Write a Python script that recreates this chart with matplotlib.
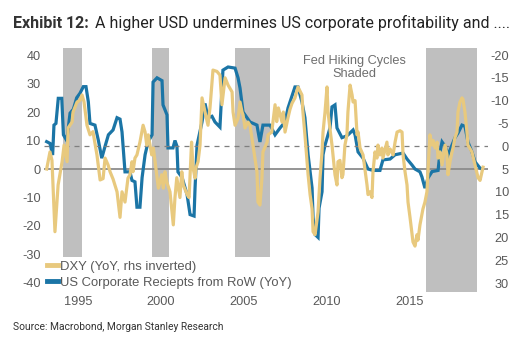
import matplotlib
matplotlib.use("Agg")
import matplotlib.pyplot as plt
from matplotlib.lines import Line2D

plt.rcParams['axes.unicode_minus'] = False

# US corporate receipts from rest of world, YoY % (left axis)
rec_t = [1993.11, 1993.31, 1993.47, 1993.55, 1993.67, 1993.81, 1994.02, 1994.12, 1994.32, 1994.52,
         1994.72, 1994.92, 1995.12, 1995.32, 1995.48, 1995.62, 1995.72, 1996.02, 1996.22, 1996.43,
         1996.63, 1996.83, 1997.11, 1997.35, 1997.53, 1997.65, 1997.83, 1998.13, 1998.25, 1998.43,
         1998.55, 1998.73, 1998.86, 1999.04, 1999.22, 1999.46, 1999.52, 1999.76, 2000.06, 2000.12,
         2000.36, 2000.42, 2000.72, 2000.84, 2000.96, 2001.02, 2001.27, 2001.57, 2001.75, 2001.99,
         2002.05, 2002.17, 2002.47, 2002.65, 2002.83, 2003.07, 2003.25, 2003.55, 2003.73, 2004.04,
         2004.46, 2004.64, 2004.76, 2004.94, 2005.36, 2005.78, 2005.96, 2006.14, 2006.57, 2006.87,
         2007.17, 2007.47, 2007.65, 2008.07, 2008.25, 2008.49, 2008.67, 2008.86, 2009.10, 2009.16,
         2009.28, 2009.46, 2009.52, 2009.70, 2009.76, 2009.88, 2010.18, 2010.30, 2010.48, 2010.60,
         2010.90, 2011.14, 2011.27, 2011.57, 2011.69, 2011.87, 2012.17, 2012.47, 2012.77, 2013.19,
         2013.37, 2013.80, 2014.10, 2014.58, 2014.82, 2015.12, 2015.30, 2015.60, 2015.72, 2015.90,
         2016.08, 2016.33, 2016.69, 2016.81, 2016.93, 2017.11, 2017.29, 2017.53, 2017.71, 2017.89,
         2018.13, 2018.31, 2018.49, 2018.73, 2018.92, 2019.22, 2019.34]
rec_yoy = [9.6, 9.0, 4.9, 15.4, 16.0, 24.8, 24.8, 12.0, 10.0, 19.6,
           21.0, 25.0, 26.6, 28.9, 28.9, 23.6, 16.0, 15.4, 10.2, 3.8,
           8.0, 12.0, 13.7, 18.0, 17.5, 13.0, -1.0, -1.0, -4.0, -4.5,
           -13.4, -13.4, -3.0, 5.0, 9.5, 12.0, 30.5, 32.0, 31.0, 22.5,
           19.0, 7.4, 7.4, 10.0, 8.0, -1.0, -3.0, -9.0, -16.0, -16.5,
           -6.7, 8.4, 16.5, 23.0, 18.0, 18.5, 16.5, 14.7, 34.7, 35.8,
           35.4, 32.0, 28.4, 20.0, 16.5, 15.4, 9.5, 15.4, 15.4, 12.0,
           14.4, 16.5, 21.4, 28.8, 28.8, 23.5, 18.0, 5.0, -6.7, -17.0,
           -23.0, -24.0, -13.7, -8.0, 5.0, 8.4, 14.4, 21.8, 22.5, 14.4,
           11.0, 11.5, 12.0, 13.7, 12.0, 6.0, 3.8, 0.0, -0.5, -0.5,
           3.2, 3.5, 5.0, 5.6, 3.5, 1.4, 0.0, -1.0, -2.8, -6.7,
           -3.2, -0.9, -0.5, 6.0, 9.5, 8.0, 5.0, 8.4, 11.0, 12.6,
           15.4, 15.0, 9.5, 6.0, 2.5, 0.3, 0.0]

# DXY, YoY % (right axis, inverted)
dxy_t = [1993.11, 1993.31, 1993.43, 1993.61, 1993.80, 1994.04, 1994.16, 1994.34, 1994.40, 1994.64,
         1994.70, 1994.94, 1995.12, 1995.24, 1995.36, 1995.54, 1995.72, 1995.90, 1996.14, 1996.33,
         1996.51, 1996.63, 1996.81, 1996.93, 1997.11, 1997.35, 1997.53, 1997.65, 1997.83, 1998.01,
         1998.13, 1998.25, 1998.31, 1998.43, 1998.55, 1998.73, 1998.92, 1999.04, 1999.14, 1999.23,
         1999.34, 1999.44, 1999.54, 1999.64, 1999.74, 1999.84, 2000.04, 2000.14, 2000.24, 2000.34,
         2000.54, 2000.74, 2000.84, 2000.95, 2001.14, 2001.25, 2001.34, 2001.57, 2001.69, 2001.84,
         2001.93, 2002.05, 2002.11, 2002.23, 2002.35, 2002.47, 2002.65, 2002.83, 2002.95, 2003.13,
         2003.37, 2003.55, 2003.67, 2003.86, 2004.04, 2004.28, 2004.34, 2004.46, 2004.64, 2004.76,
         2004.88, 2004.94, 2005.06, 2005.24, 2005.36, 2005.54, 2005.78, 2005.84, 2005.96, 2006.08,
         2006.14, 2006.39, 2006.45, 2006.67, 2006.87, 2006.97, 2007.07, 2007.29, 2007.37, 2007.47,
         2007.65, 2007.77, 2007.89, 2008.07, 2008.25, 2008.49, 2008.55, 2008.67, 2008.80, 2008.86,
         2008.98, 2009.10, 2009.16, 2009.28, 2009.46, 2009.58, 2009.70, 2009.76, 2009.88, 2010.00,
         2010.06, 2010.18, 2010.30, 2010.36, 2010.48, 2010.60, 2010.66, 2010.78, 2010.90, 2010.96,
         2011.08, 2011.20, 2011.26, 2011.39, 2011.51, 2011.57, 2011.69, 2011.81, 2011.87, 2011.99,
         2012.17, 2012.41, 2012.47, 2012.59, 2012.71, 2012.77, 2012.89, 2013.01, 2013.07, 2013.19,
         2013.31, 2013.37, 2013.61, 2013.67, 2013.80, 2013.98, 2014.10, 2014.22, 2014.40, 2014.52,
         2014.58, 2014.70, 2014.82, 2014.88, 2015.00, 2015.18, 2015.30, 2015.42, 2015.48, 2015.60,
         2015.72, 2015.78, 2015.90, 2016.02, 2016.08, 2016.20, 2016.33, 2016.39, 2016.51, 2016.63,
         2016.69, 2016.81, 2016.93, 2017.11, 2017.23, 2017.29, 2017.41, 2017.53, 2017.59, 2017.71,
         2017.83, 2017.89, 2018.01, 2018.13, 2018.19, 2018.31, 2018.43, 2018.49, 2018.73, 2018.92,
         2019.10, 2019.22, 2019.34, 2019.40]
dxy_yoy = [5.0, 1.25, 3.1, 18.75, 8.5, 3.4, -0.25, 3.4, -4.0, -5.3,
           -7.5, -9.7, -10.1, -11.25, -9.75, -4.6, -2.5, -3.2, 1.9, 7.4,
           7.1, 2.6, 4.1, 5.6, 7.2, 10.0, 15.6, 10.0, 12.25, 7.0,
           6.25, 3.4, 5.6, 2.6, 1.9, -0.9, -4.6, -3.1, -0.25, -2.5,
           -0.25, 1.9, 0.4, 3.4, 6.25, 9.2, 6.25, 9.2, 5.6, 7.75,
           10.0, 17.25, 11.25, 6.9, 11.25, 5.6, 8.5, 10.6, 11.25, -0.9,
           4.75, 7.0, 4.7, 3.4, -0.25, -10.6, -7.5, -4.6, -8.4, -16.7,
           -16.4, -15.6, -9.1, -15.0, -13.4, -11.9, -7.5, -4.6, -6.1, -9.7,
           -7.5, -6.9, -4.0, -5.3, -4.6, -0.25, 5.6, 12.25, 12.9, 7.0,
           1.25, -0.9, -2.5, -3.1, -9.1, -5.4, -8.4, -5.3, -7.5, -3.1,
           -6.25, -8.1, -9.4, -10.6, -13.0, -11.25, -7.5, -2.5, 3.4, 6.25,
           10.6, 13.75, 18.75, 19.4, 14.4, 6.9, 1.25, -3.1, -7.5, -13.0,
           -7.5, -3.75, -0.25, 1.9, 6.25, 8.5, 3.4, 3.1, 6.9, 6.25,
           -0.25, -2.5, -7.5, -13.4, -11.25, -9.7, -10.0, -2.5, -3.1, 0.4,
           1.9, 8.5, 10.6, 10.0, 11.25, 5.6, 1.25, 2.6, -0.25, 1.9,
           0.4, 2.6, -0.9, 1.9, 0.6, 1.9, -0.9, -3.1, -3.4, -3.1,
           1.9, 5.6, 8.5, 12.25, 15.6, 21.0, 21.9, 19.4, 20.6, 17.25,
           15.0, 13.75, 12.25, 10.0, 5.6, -2.5, -0.25, -1.25, 0.4, -0.9,
           2.6, 1.25, 4.1, -0.25, 1.9, 6.25, 3.4, 1.25, 0.4, -1.9,
           -3.1, -7.5, -9.7, -10.6, -10.3, -7.5, -3.1, -0.25, 1.25, 4.1,
           6.9, 7.5, 5.6, 4.6]

# Fed hiking cycles
hike_start = [1994.08, 1999.46, 2004.46, 2015.96]
hike_end = [1995.25, 2000.50, 2006.54, 2019.05]

left_ticks = [40, 30, 20, 10, 0, -10, -20, -30, -40]
right_ticks = [-20, -15, -10, -5, 0, 5, 10, 15, 20, 25, 30]
year_ticks = [1995, 2000, 2005, 2010, 2015]

TAN = '#E8C97E'
BLUE = '#1B75A6'
SHADE = '#BFBFBF'
GREY_TXT = '#595959'
FONT = 'Liberation Sans'

fig = plt.figure(figsize=(5.26, 3.40), dpi=100)
ax = fig.add_axes([0.0827, 0.1412, 0.8451, 0.7176])
ax2 = ax.twinx()

for s, e in zip(hike_start, hike_end):
    ax.axvspan(s, e, color=SHADE, lw=0, zorder=0)

ax.axhline(0, color='#8C8C8C', lw=1.3, zorder=1)
ax.plot(rec_t, rec_yoy, color=BLUE, lw=2.3, solid_joinstyle='miter', zorder=2)

ax2.axhline(0, color='#7F7F7F', lw=0.9, ls=(0, (4, 4)), zorder=1)
ax2.plot(dxy_t, dxy_yoy, color=TAN, lw=2.3, zorder=3)

ax.set_xlim(1992.92, 2019.70)
ax.set_ylim(-43.16, 42.46)
ax2.set_ylim(31.97, -21.54)

ax.set_xticks(year_ticks)
ax.set_xticklabels([str(y) for y in year_ticks])
ax.set_yticks(left_ticks)
ax.set_yticklabels([str(v) for v in left_ticks])
ax2.set_yticks(right_ticks)
ax2.set_yticklabels([str(v) for v in right_ticks])

for a in (ax, ax2):
    for sp in a.spines.values():
        sp.set_visible(False)
    a.tick_params(length=0, colors=GREY_TXT, labelsize=9.2)
    for lab in a.get_xticklabels() + a.get_yticklabels():
        lab.set_fontfamily(FONT)
ax.tick_params(axis='y', pad=2)
ax.tick_params(axis='x', pad=3)
ax2.tick_params(axis='y', pad=15)
for lab in ax2.get_yticklabels():
    lab.set_horizontalalignment('right')

ax.text(0.70, 0.97, 'Fed Hiking Cycles\nShaded', transform=ax.transAxes,
        ha='center', va='top', fontsize=9.2, color='#6E6E6E', family=FONT,
        linespacing=1.05)

handles = [Line2D([], [], color=TAN, lw=3.5), Line2D([], [], color=BLUE, lw=3.5)]
leg = ax2.legend(handles, ['DXY (YoY, rhs inverted)', 'US Corporate Reciepts from RoW (YoY)'],
                 loc='lower left', bbox_to_anchor=(0.0, 0.0), frameon=True,
                 facecolor='white', edgecolor='none', framealpha=1.0,
                 prop={'family': FONT, 'size': 9.4}, labelcolor=GREY_TXT,
                 handlelength=0.85, handletextpad=0.2, labelspacing=0.3,
                 borderpad=0.25, borderaxespad=0.0, fancybox=False)
leg.get_frame().set_linewidth(0)

t1 = fig.text(0.025, 0.918, 'Exhibit 12:', fontsize=11.5, fontweight='bold',
              family='Roboto', color='#333333', va='baseline')
fig.canvas.draw()
bb = t1.get_window_extent()
x_next = (bb.x1 + 6) / fig.bbox.width
fig.text(x_next, 0.918, 'A higher USD undermines US corporate profitability and ....',
         fontsize=11.5, family='Roboto', color='#222222', va='baseline')

fig.text(0.025, 0.028, 'Source: Macrobond, Morgan Stanley Research', fontsize=7.4,
         family='Roboto', color='#333333', va='baseline')

fig.savefig('out.png', dpi=100)
